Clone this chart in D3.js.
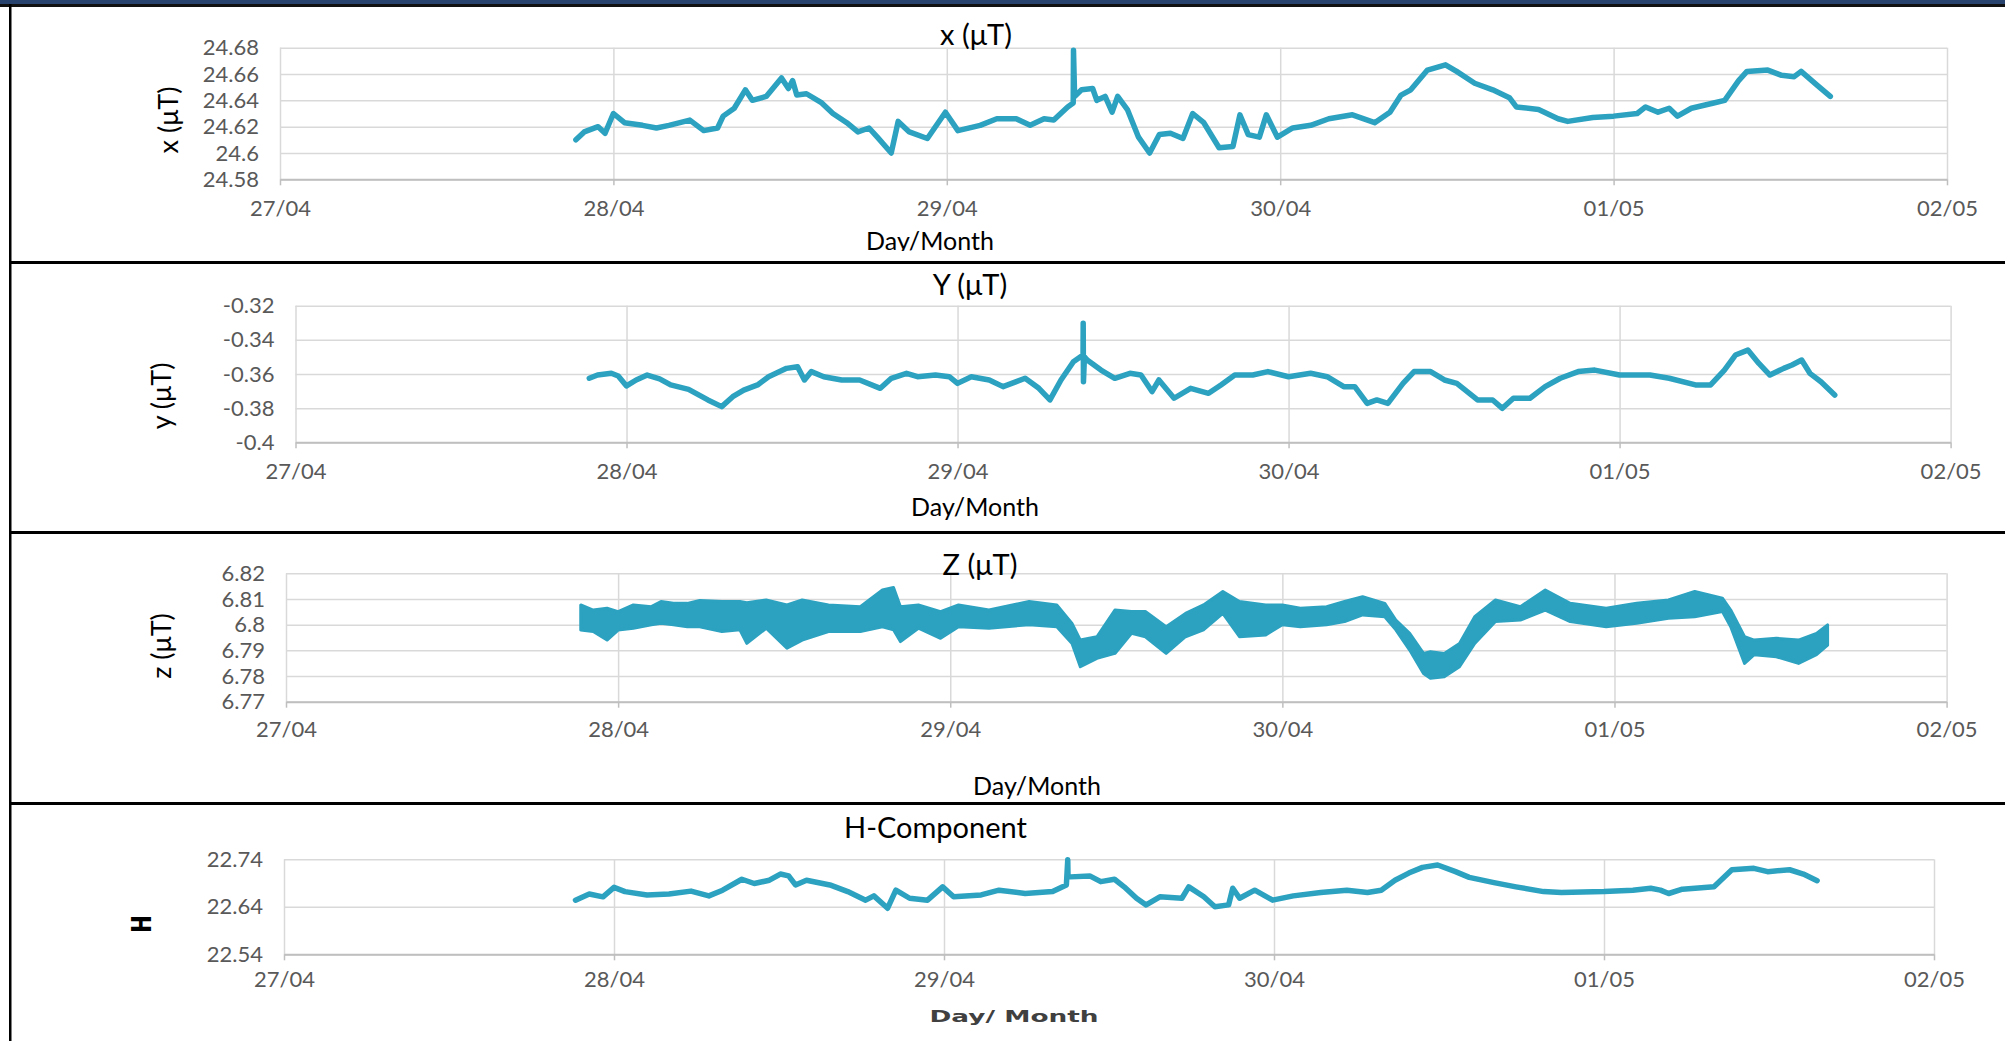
<!DOCTYPE html>
<html>
<head>
<meta charset="utf-8">
<script src="https://cdn.jsdelivr.net/npm/d3@7"></script>
<style>
  body { margin: 0; background: #fff; }
  svg { display: block; font-family: Lato, 'Open Sans', sans-serif; }
</style>
</head>
<body>
<svg id="chart"></svg>
<script>
// hours since 27/04 00:00
const dayHours = [0, 24, 48, 72, 96, 120];
const dayLabels = ['27/04', '28/04', '29/04', '30/04', '01/05', '02/05'];

const xTicks = [24.58, 24.60, 24.62, 24.64, 24.66, 24.68];
const yTicks = [-0.40, -0.38, -0.36, -0.34, -0.32];
const zTicks = [6.77, 6.78, 6.79, 6.80, 6.81, 6.82];
const hTicks = [22.54, 22.64, 22.74];

const xHours = [21.3, 21.9, 22.9, 23.4, 24.0, 24.8, 26.1, 27.1, 28.0, 29.5, 30.5, 31.5, 31.9, 32.7, 33.5, 34.0,
  35.0, 36.1, 36.6, 36.9, 37.2, 37.9, 39.0, 39.8, 40.8, 41.6, 42.4, 43.0, 44.0, 44.5, 45.3, 46.6, 47.9, 48.8,
  50.4, 51.6, 53.0, 54.0, 55.0, 55.7, 56.7, 57.1, 57.12, 57.2, 57.7, 58.5, 58.8, 59.4, 59.9, 60.3, 61.0, 61.8,
  62.6, 63.3, 64.1, 65.0, 65.7, 66.5, 67.6, 68.6, 69.1, 69.7, 70.5, 71.0, 71.8, 72.9, 74.2, 75.5, 77.2, 78.8,
  79.9, 80.7, 81.4, 82.6, 83.9, 84.7, 86.0, 87.3, 88.5, 89.0, 90.6, 92.0, 92.7, 94.5, 96.0, 97.7, 98.3, 99.2,
  100.0, 100.6, 101.6, 103.2, 104.0, 105.0, 105.6, 107.1, 108.1, 109.0, 109.5, 110.6, 111.6];
const xValues = [24.610, 24.616, 24.620, 24.615, 24.630, 24.623, 24.621, 24.619, 24.621, 24.625, 24.617, 24.619,
  24.628, 24.634, 24.648, 24.640, 24.643, 24.657, 24.649, 24.655, 24.644, 24.645, 24.638, 24.630, 24.623, 24.616,
  24.619, 24.612, 24.600, 24.624, 24.616, 24.611, 24.631, 24.617, 24.621, 24.626, 24.626, 24.621, 24.626, 24.625,
  24.635, 24.638, 24.678, 24.643, 24.648, 24.649, 24.640, 24.643, 24.631, 24.643, 24.633, 24.612, 24.600, 24.614,
  24.615, 24.611, 24.630, 24.623, 24.604, 24.605, 24.629, 24.614, 24.612, 24.629, 24.612, 24.619, 24.621, 24.626,
  24.629, 24.623, 24.631, 24.644, 24.648, 24.663, 24.667, 24.662, 24.653, 24.648, 24.642, 24.635, 24.633, 24.626,
  24.624, 24.627, 24.628, 24.630, 24.635, 24.631, 24.634, 24.628, 24.634, 24.638, 24.640, 24.655, 24.662, 24.663,
  24.659, 24.658, 24.662, 24.652, 24.643];

const yHours = [21.3, 21.9, 22.9, 23.4, 24.0, 24.7, 25.5, 26.4, 27.2, 28.5, 29.9, 30.9, 31.7, 32.5, 33.5, 34.3,
  35.6, 36.4, 36.9, 37.4, 38.3, 39.6, 40.9, 42.4, 43.2, 44.3, 45.1, 46.4, 47.4, 48.0, 49.0, 50.3, 51.3, 52.9,
  53.9, 54.7, 55.5, 56.4, 57.1, 57.11, 57.13, 57.2, 57.4, 58.4, 59.4, 60.5, 61.3, 62.1, 62.6, 63.7, 64.9, 66.2,
  67.1, 68.1, 69.4, 70.5, 72.0, 73.6, 74.8, 76.0, 76.8, 77.7, 78.4, 79.2, 80.3, 81.1, 82.3, 83.3, 84.2, 85.7,
  86.8, 87.5, 88.3, 89.5, 90.6, 91.7, 93.0, 94.2, 96.0, 98.2, 99.6, 101.5, 102.6, 103.6, 104.4, 105.3, 106.1,
  106.9, 107.9, 108.5, 109.2, 109.8, 110.6, 111.6];
const yValues = [-0.3625, -0.3606, -0.3596, -0.3612, -0.3670, -0.3635, -0.3606, -0.3628, -0.3664, -0.3690,
  -0.3752, -0.3791, -0.3733, -0.3694, -0.3664, -0.3616, -0.3567, -0.3557, -0.3635, -0.3586, -0.3616, -0.3635,
  -0.3635, -0.3684, -0.3625, -0.3596, -0.3616, -0.3606, -0.3616, -0.3655, -0.3616, -0.3635, -0.3674, -0.3625,
  -0.3684, -0.3752, -0.3635, -0.3528, -0.3489, -0.3303, -0.3645, -0.3500, -0.3518, -0.3577, -0.3625, -0.3596,
  -0.3606, -0.3703, -0.3635, -0.3742, -0.3684, -0.3713, -0.3664, -0.3606, -0.3606, -0.3586, -0.3616, -0.3596,
  -0.3616, -0.3674, -0.3674, -0.3772, -0.3752, -0.3772, -0.3655, -0.3586, -0.3586, -0.3635, -0.3655, -0.3752,
  -0.3752, -0.3801, -0.3742, -0.3742, -0.3674, -0.3625, -0.3586, -0.3577, -0.3606, -0.3606, -0.3625, -0.3664,
  -0.3664, -0.3577, -0.3489, -0.3460, -0.3538, -0.3606, -0.3567, -0.3547, -0.3518, -0.3596, -0.3645, -0.3723];

// z is a noisy band: upper and lower envelope
const zHours = [21.3, 22.2, 23.2, 24.0, 25.1, 26.4, 27.1, 28.0, 29.0, 29.9, 31.5, 32.8, 33.3, 34.7, 36.2, 37.3,
  39.2, 41.5, 43.1, 43.9, 44.4, 45.7, 47.3, 48.6, 50.8, 53.7, 55.7, 56.8, 57.4, 58.6, 59.9, 61.1, 62.1, 63.6,
  65.0, 66.3, 67.7, 68.9, 70.8, 72.0, 73.3, 75.2, 76.5, 77.8, 79.4, 80.2, 81.2, 82.2, 82.7, 83.7, 84.8, 85.9,
  87.4, 89.2, 91.0, 92.8, 95.4, 97.6, 99.9, 101.8, 103.8, 104.4, 105.4, 106.1, 107.7, 109.3, 110.6, 111.4];
const zUpper = [6.8077, 6.8057, 6.8064, 6.8051, 6.8077, 6.8070, 6.8090, 6.8083, 6.8083, 6.8094, 6.8090, 6.8090,
  6.8085, 6.8096, 6.8077, 6.8096, 6.8077, 6.8070, 6.8135, 6.8145, 6.8070, 6.8077, 6.8051, 6.8077, 6.8057, 6.8090,
  6.8077, 6.8005, 6.7940, 6.7953, 6.8057, 6.8051, 6.8051, 6.7992, 6.8044, 6.8077, 6.8129, 6.8090, 6.8077, 6.8077,
  6.8064, 6.8070, 6.8090, 6.8109, 6.8083, 6.8018, 6.7966, 6.7888, 6.7895, 6.7888, 6.7927, 6.8031, 6.8096, 6.8070,
  6.8135, 6.8083, 6.8064, 6.8083, 6.8096, 6.8129, 6.8103, 6.8057, 6.7953, 6.7940, 6.7947, 6.7940, 6.7966, 6.7999];
const zLower = [6.7979, 6.7973, 6.7940, 6.7979, 6.7986, 6.8000, 6.8005, 6.8000, 6.7992, 6.7992, 6.7973, 6.7980,
  6.7927, 6.7986, 6.7908, 6.7940, 6.7973, 6.7973, 6.7992, 6.7980, 6.7934, 6.7986, 6.7947, 6.7992, 6.7986, 6.8000,
  6.7992, 6.7927, 6.7836, 6.7869, 6.7888, 6.7966, 6.7953, 6.7888, 6.7953, 6.7980, 6.8044, 6.7953, 6.7960, 6.8000,
  6.7992, 6.8000, 6.8012, 6.8038, 6.8031, 6.7980, 6.7901, 6.7810, 6.7791, 6.7797, 6.7836, 6.7927, 6.8012, 6.8018,
  6.8057, 6.8012, 6.7992, 6.8005, 6.8025, 6.8031, 6.8051, 6.7992, 6.7849, 6.7883, 6.7875, 6.7849, 6.7883, 6.7920];

const hHours = [21.2, 22.2, 23.2, 24.0, 24.8, 26.4, 28.0, 29.6, 30.9, 31.9, 33.3, 34.2, 35.3, 36.1, 36.7, 37.2,
  38.0, 39.7, 41.0, 42.3, 42.9, 43.9, 44.5, 45.5, 46.8, 47.9, 48.7, 50.7, 52.0, 53.9, 55.9, 56.9, 57.0, 57.02,
  57.2, 58.6, 59.4, 60.4, 61.1, 62.0, 62.7, 63.7, 65.3, 65.8, 66.9, 67.7, 68.7, 69.0, 69.5, 70.6, 71.9, 73.4,
  75.4, 77.3, 78.8, 79.8, 80.8, 81.8, 82.8, 83.9, 85.2, 86.2, 88.0, 89.6, 91.6, 92.9, 96.0, 98.1, 99.4, 100.1,
  100.7, 101.7, 104.0, 105.3, 106.9, 107.9, 109.5, 110.5, 111.5];
const hValues = [22.654, 22.667, 22.661, 22.681, 22.672, 22.665, 22.667, 22.673, 22.663, 22.675, 22.698, 22.689,
  22.696, 22.709, 22.705, 22.686, 22.696, 22.686, 22.672, 22.654, 22.663, 22.637, 22.675, 22.658, 22.654, 22.682,
  22.661, 22.665, 22.675, 22.668, 22.672, 22.686, 22.739, 22.703, 22.703, 22.705, 22.693, 22.698, 22.682, 22.658,
  22.644, 22.661, 22.658, 22.682, 22.661, 22.640, 22.644, 22.679, 22.658, 22.675, 22.654, 22.663, 22.670, 22.675,
  22.670, 22.675, 22.696, 22.711, 22.723, 22.728, 22.714, 22.702, 22.691, 22.682, 22.672, 22.670, 22.672, 22.675,
  22.679, 22.675, 22.668, 22.677, 22.682, 22.718, 22.721, 22.714, 22.718, 22.709, 22.695];

const lineColor = '#2ca2c0';
const W = 2005, H = 1041;

const panels = [
  { title: 'x (μT)', yTitle: 'x (μT)', xTitle: 'Day/Month', ticks: xTicks,
    series: { hours: xHours, values: xValues },
    box: { left: 280, right: 1947, top: 47.7, bottom: 179.3 }, labelDy: 36.5,
    titlePos: [976, 45], xTitlePos: [930, 250], yTitlePos: [167, 120], clipBottom: 251 },
  { title: 'Y (μT)', yTitle: 'y (μT)', xTitle: 'Day/Month', ticks: yTicks,
    series: { hours: yHours, values: yValues },
    box: { left: 295.5, right: 1950.6, top: 305.7, bottom: 442.3 }, labelDy: 36.3,
    titlePos: [970, 295], xTitlePos: [975, 516], yTitlePos: [160, 396] },
  { title: 'Z (μT)', yTitle: 'z (μT)', xTitle: 'Day/Month', ticks: zTicks,
    band: { hours: zHours, upper: zUpper, lower: zLower },
    box: { left: 286, right: 1946.6, top: 573.3, bottom: 701.7 }, labelDy: 35.3,
    titlePos: [980, 575], xTitlePos: [1037, 795], yTitlePos: [160, 646] },
  { title: 'H-Component', yTitle: 'H', xTitle: 'Day/ Month', ticks: hTicks,
    series: { hours: hHours, values: hValues },
    box: { left: 284, right: 1934, top: 859.3, bottom: 954.3 }, labelDy: 33,
    titlePos: [935.5, 838], xTitlePos: [1014, 1022], yTitlePos: [143, 924], hStyle: true }
];

const svg = d3.select('#chart').attr('width', W).attr('height', H);
svg.append('rect').attr('width', W).attr('height', H).attr('fill', '#fff');

const defs = svg.append('defs');
defs.append('clipPath').attr('id', 'clip-top')
  .append('rect').attr('x', 0).attr('y', 0).attr('width', W).attr('height', 251);

const fmt = d => String(+d.toFixed(2));

panels.forEach(p => {
  const b = p.box;
  const width = b.right - b.left;
  const height = b.bottom - b.top;

  const x = d3.scaleLinear().domain([0, 120]).range([0, width]);
  const y = d3.scaleLinear().domain(d3.extent(p.ticks)).range([height, 0]);

  const g = svg.append('g').attr('transform', `translate(${b.left},${b.top})`);

  // Horizontal grid + y tick labels
  const yAxis = g.append('g')
    .call(d3.axisLeft(y).tickValues(p.ticks).tickSize(-width).tickPadding(21).tickFormat(fmt));
  yAxis.select('.domain').remove();
  yAxis.selectAll('line').attr('stroke', '#d9d9d9').attr('stroke-width', 1.5);
  yAxis.selectAll('text').attr('font-size', '22px').attr('fill', '#595959')
    .attr('font-family', 'Lato, sans-serif');

  // Vertical day grid
  const xGrid = g.append('g')
    .call(d3.axisBottom(x).tickValues(dayHours).tickSize(-height).tickFormat(''))
    .attr('transform', `translate(0,${height})`);
  xGrid.select('.domain').remove();
  xGrid.selectAll('line').attr('stroke', '#d9d9d9').attr('stroke-width', 1.5);

  // Bottom axis with day labels
  const xAxis = g.append('g').attr('transform', `translate(0,${height})`)
    .call(d3.axisBottom(x).tickValues(dayHours).tickSizeInner(6).tickSizeOuter(0)
      .tickFormat((d, k) => dayLabels[k]));
  xAxis.select('.domain').attr('stroke', '#bfbfbf').attr('stroke-width', 2);
  xAxis.selectAll('line').attr('stroke', '#bfbfbf').attr('stroke-width', 1.5);
  xAxis.selectAll('text').attr('y', p.labelDy).attr('dy', null)
    .attr('font-size', '22px').attr('fill', '#595959').attr('font-family', 'Lato, sans-serif');

  // Data
  if (p.series) {
    const pts = p.series.hours.map((h, k) => [h, p.series.values[k]]);
    g.append('path').datum(pts)
      .attr('fill', 'none').attr('stroke', lineColor).attr('stroke-width', 5.5)
      .attr('stroke-linejoin', 'round').attr('stroke-linecap', 'round')
      .attr('d', d3.line().x(d => x(d[0])).y(d => y(d[1])));
  }
  if (p.band) {
    const pts = p.band.hours.map((h, k) => ({ h, hi: p.band.upper[k], lo: p.band.lower[k] }));
    g.append('path').datum(pts)
      .attr('fill', lineColor).attr('stroke', lineColor).attr('stroke-width', 3)
      .attr('stroke-linejoin', 'round')
      .attr('d', d3.area().x(d => x(d.h)).y0(d => y(d.lo)).y1(d => y(d.hi)));
  }

  // Titles
  svg.append('text')
    .attr('x', p.titlePos[0]).attr('y', p.titlePos[1])
    .attr('text-anchor', 'middle').attr('font-size', '29px').attr('fill', '#000')
    .text(p.title);

  if (p.hStyle) {
    svg.append('text')
      .attr('x', p.xTitlePos[0]).attr('y', p.xTitlePos[1])
      .attr('text-anchor', 'middle').attr('font-size', '16px').attr('font-weight', 'bold')
      .attr('font-family', "'DejaVu Sans', sans-serif").attr('fill', '#404040')
      .attr('textLength', 169).attr('lengthAdjust', 'spacingAndGlyphs')
      .text(p.xTitle);
    svg.append('text')
      .attr('transform', `translate(${p.yTitlePos[0]},${p.yTitlePos[1]}) rotate(-90)`)
      .attr('text-anchor', 'middle').attr('dominant-baseline', 'central')
      .attr('font-size', '30px').attr('font-weight', 'bold')
      .attr('font-family', "'Liberation Mono', monospace").attr('fill', '#000')
      .text(p.yTitle);
  } else {
    const t = svg.append('text')
      .attr('x', p.xTitlePos[0]).attr('y', p.xTitlePos[1])
      .attr('text-anchor', 'middle').attr('font-size', '25px').attr('fill', '#000')
      .text(p.xTitle);
    if (p.clipBottom) t.attr('clip-path', 'url(#clip-top)');
    svg.append('text')
      .attr('transform', `translate(${p.yTitlePos[0]},${p.yTitlePos[1]}) rotate(-90)`)
      .attr('text-anchor', 'middle').attr('dominant-baseline', 'central')
      .attr('font-size', '27px').attr('fill', '#000')
      .text(p.yTitle);
  }
});

// Frame: navy header strip, left border, panel separators
svg.append('rect').attr('x', 0).attr('y', 0).attr('width', W).attr('height', 4).attr('fill', '#27436e');
svg.append('rect').attr('x', 0).attr('y', 4).attr('width', W).attr('height', 3).attr('fill', '#111');
svg.append('rect').attr('x', 9).attr('y', 4).attr('width', 2.5).attr('height', H).attr('fill', '#000');
[261, 531, 802].forEach(yy => {
  svg.append('rect').attr('x', 9).attr('y', yy).attr('width', W).attr('height', 3).attr('fill', '#000');
});
</script>
</body>
</html>
